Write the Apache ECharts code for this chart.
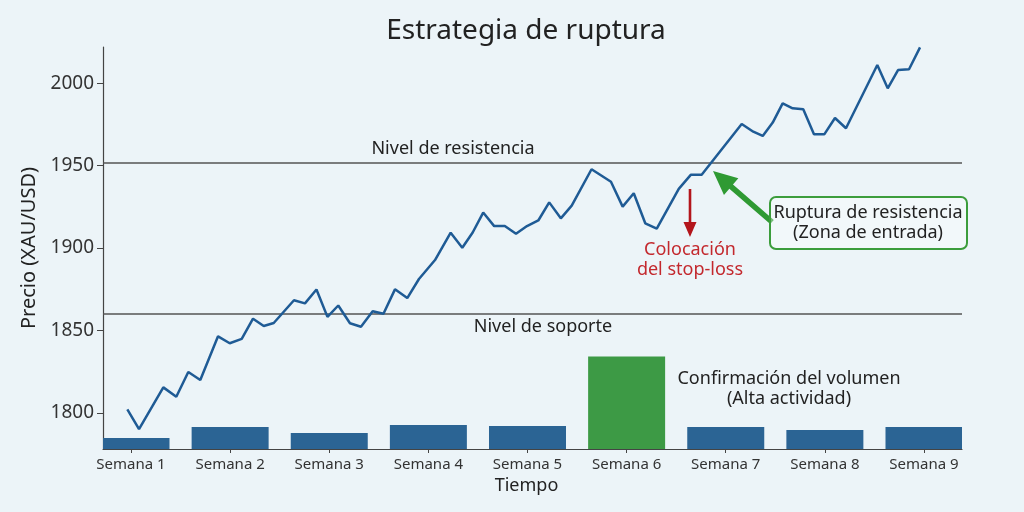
<!DOCTYPE html>
<html>
<head>
<meta charset="utf-8">
<title>Estrategia de ruptura</title>
<script src="https://cdn.jsdelivr.net/npm/echarts@6/dist/echarts.min.js"></script>
<style>
    html, body { margin: 0; padding: 0; background: #ecf4f8; }
    #chart { width: 1024px; height: 512px; }
</style>
</head>
<body>
<div id="chart"></div>
<script>
// semanas y volumen semanal (la semana 6 es la de alto volumen)
const weeks = [1, 2, 3, 4, 5, 6, 7, 8, 9]
const volume = [11, 22, 16, 24, 23, 92, 22, 19, 22]
const peakWeek = 6

// precio XAU/USD: posición en semanas y valor
const priceWeeks = [
    0.963, 1.081, 1.326, 1.457, 1.578, 1.699, 1.878, 1.996, 2.117, 2.231,
    2.339, 2.440, 2.644, 2.755, 2.871, 2.982, 3.091, 3.209, 3.320, 3.438,
    3.547, 3.663, 3.787, 3.905, 4.067, 4.225, 4.342, 4.447, 4.553, 4.664,
    4.771, 4.884, 4.995, 5.109, 5.219, 5.336, 5.446, 5.646, 5.842, 5.960,
    6.072, 6.188, 6.304, 6.526, 6.647, 6.757, 7.161, 7.278, 7.373, 7.474,
    7.574, 7.675, 7.782, 7.890, 7.994, 8.102, 8.213, 8.529, 8.634, 8.738,
    8.849, 8.960
]
const priceValues = [
    1802.1, 1790.1, 1815.4, 1809.7, 1824.7, 1819.9, 1846.4, 1842.2, 1844.8, 1857.1,
    1852.7, 1854.5, 1868.3, 1866.4, 1874.8, 1858.2, 1865.1, 1854.3, 1852.2, 1861.6,
    1860.1, 1874.9, 1869.6, 1881.2, 1892.7, 1909.3, 1900.2, 1909.4, 1921.5, 1913.3,
    1913.3, 1908.6, 1913.3, 1916.7, 1927.7, 1918.0, 1925.7, 1947.8, 1940.2, 1925.1,
    1933.2, 1915.0, 1911.7, 1935.9, 1944.4, 1944.4, 1975.3, 1970.6, 1968.0, 1976.1,
    1987.8, 1984.8, 1984.2, 1969.0, 1969.0, 1978.9, 1972.7, 2011.1, 1996.9, 2008.0,
    2008.5, 2021.8
]
const priceTicks = [1800, 1850, 1900, 1950, 2000]
const resistance = 1952
const support = 1860

const font = 'Noto Sans'
const textColor = '#222'

function arrowPoints(tip, tail, headLen, headHalf, shaftHalf) {
    const dx = tail[0] - tip[0], dy = tail[1] - tip[1]
    const len = Math.hypot(dx, dy)
    const ux = dx / len, uy = dy / len, px = -uy, py = ux
    const bx = tip[0] + ux * headLen, by = tip[1] + uy * headLen
    return [
        tip,
        [bx + px * headHalf, by + py * headHalf],
        [bx + px * shaftHalf, by + py * shaftHalf],
        [tail[0] + px * shaftHalf, tail[1] + py * shaftHalf],
        [tail[0] - px * shaftHalf, tail[1] - py * shaftHalf],
        [bx - px * shaftHalf, by - py * shaftHalf],
        [bx - px * headHalf, by - py * headHalf]
    ]
}

function label(text, x, y, color) {
    return {
        type: 'text', z: 50,
        style: {
            text, x, y, align: 'center', verticalAlign: 'middle',
            fontSize: 18, fontFamily: font, lineHeight: 20, fill: color || textColor
        }
    }
}

// barras de volumen recortadas al área del grid
function renderVolume(params, api) {
    const week = api.value(0)
    const base = api.coord([week, 0])
    const top = api.coord([week, api.value(1)])
    const width = 77
    const cs = params.coordSys
    const rect = echarts.graphic.clipRectByRect(
        { x: base[0] - width / 2, y: top[1], width, height: base[1] - top[1] },
        { x: cs.x, y: cs.y, width: cs.width, height: cs.height }
    )
    if (!rect) return
    return {
        type: 'rect',
        shape: rect,
        style: { fill: week === peakWeek ? '#3d9a45' : '#2b6494' }
    }
}

let chart = echarts.init(document.getElementById('chart'))

let option = {
    backgroundColor: '#ecf4f8',
    animation: false,
    title: {
        text: 'Estrategia de ruptura',
        left: 521, top: 12, textAlign: 'center',
        textStyle: { fontSize: 28, fontWeight: 'normal', fontFamily: font, color: textColor }
    },
    grid: { left: 103, right: 62, top: 47, bottom: 63 },
    xAxis: {
        type: 'value',
        min: 0.7175, max: 9.3834,
        name: 'Tiempo', nameLocation: 'middle', nameGap: 27,
        nameTextStyle: { fontSize: 18, fontFamily: font, color: textColor, padding: [0, 12, 0, 0] },
        axisLine: { lineStyle: { color: '#444', width: 1.2 } },
        axisTick: { customValues: weeks, length: 4, lineStyle: { color: '#444' } },
        axisLabel: {
            customValues: weeks, margin: 8,
            formatter: v => 'Semana ' + v,
            fontSize: 15, fontFamily: font, color: '#333'
        },
        splitLine: { show: false }
    },
    yAxis: [{
        type: 'value',
        min: 1778, max: 2022,
        name: 'Precio (XAU/USD)', nameLocation: 'middle', nameGap: 55,
        nameTextStyle: { fontSize: 20, fontFamily: font, color: textColor },
        axisLine: { show: true, lineStyle: { color: '#444', width: 1.2 } },
        axisTick: { show: true, customValues: priceTicks, length: 6, lineStyle: { color: '#444' } },
        axisLabel: {
            customValues: priceTicks, margin: 9,
            formatter: v => String(v),
            fontSize: 19, fontFamily: font, color: '#333'
        },
        splitLine: { show: false }
    }, {
        type: 'value', min: 0, max: 400, show: false,
        splitLine: { show: false }
    }],
    series: [{
        type: 'custom',
        yAxisIndex: 1,
        renderItem: renderVolume,
        encode: { x: 0, y: 1 },
        data: weeks.map((w, i) => [w, volume[i]])
    }, {
        type: 'line',
        yAxisIndex: 0,
        z: 5,
        symbol: 'none',
        lineStyle: { color: '#1f5b95', width: 2.5 },
        data: priceWeeks.map((w, i) => [w, priceValues[i]]),
        markLine: {
            symbol: 'none', silent: true,
            label: { show: false },
            lineStyle: { color: '#555', width: 1.5, type: 'solid' },
            data: [{ yAxis: resistance }, { yAxis: support }]
        }
    }],
    graphic: [
        label('Nivel de resistencia', 453, 149),
        label('Nivel de soporte', 543, 327),
        label('Confirmación del volumen\n(Alta actividad)', 789, 389),
        {
            type: 'polygon', z: 50,
            shape: { points: arrowPoints([690, 237], [690, 189], 15, 6.5, 1.3) },
            style: { fill: '#b3151b' }
        },
        label('Colocación\ndel stop-loss', 690, 260, '#c3282d'),
        {
            type: 'polygon', z: 50,
            shape: { points: arrowPoints([713, 171], [772, 222], 24, 11, 2.8) },
            style: { fill: '#2f9a33' }
        },
        {
            type: 'rect', z: 50,
            shape: { x: 770, y: 197, width: 197, height: 52, r: 6 },
            style: { fill: 'rgba(255,255,255,0.35)', stroke: '#3c9d3c', lineWidth: 2 }
        },
        label('Ruptura de resistencia\n(Zona de entrada)', 868, 223)
    ]
}

chart.setOption(option)
</script>
</body>
</html>
